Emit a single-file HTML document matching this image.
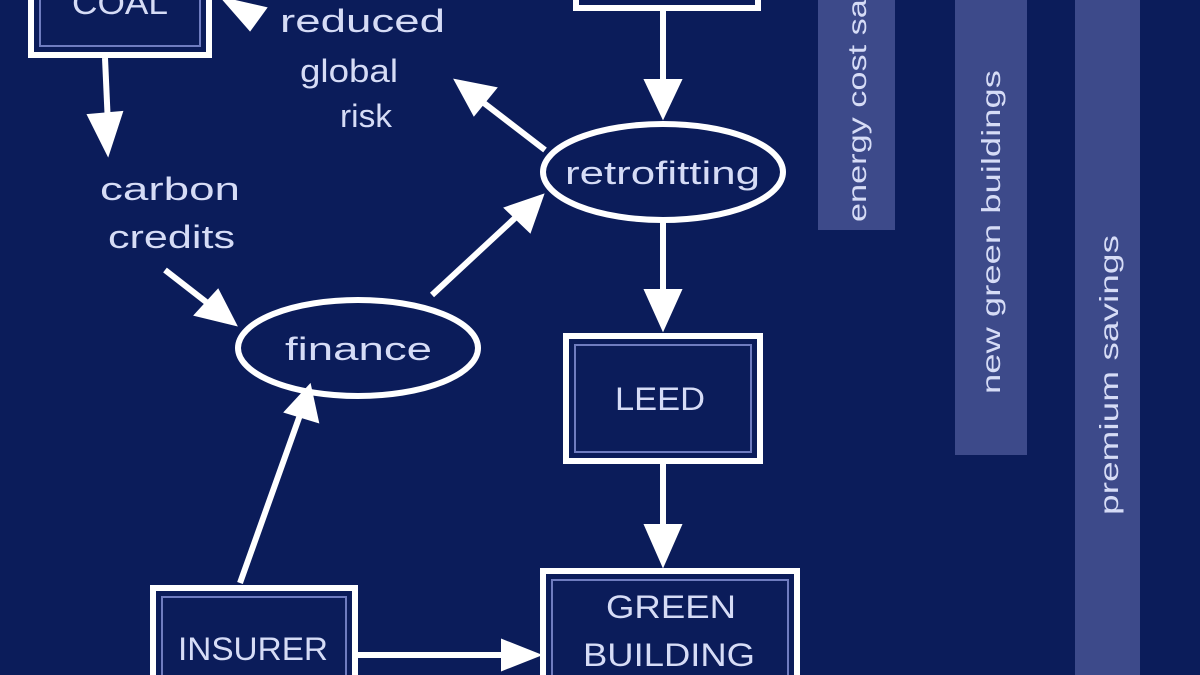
<!DOCTYPE html>
<html><head><style>
html,body{margin:0;padding:0;background:#0b1c5a;}
svg{display:block}
text{font-family:"Liberation Sans",sans-serif;fill:#d6dcf6;}
</style></head><body>
<svg width="1200" height="675" viewBox="0 0 1200 675">
<rect width="1200" height="675" fill="#0b1c5a"/>
<rect x="818" y="-5" width="77" height="235" fill="#3d4a8a"/>
<rect x="955" y="-5" width="72" height="460" fill="#3d4a8a"/>
<rect x="1075" y="-5" width="65" height="690" fill="#3d4a8a"/>
<text transform="translate(866,222) rotate(-90)" font-size="26" textLength="240" lengthAdjust="spacingAndGlyphs">energy cost sav</text>
<text transform="translate(1000,394) rotate(-90)" font-size="26" textLength="324" lengthAdjust="spacingAndGlyphs">new green buildings</text>
<text transform="translate(1118,515) rotate(-90)" font-size="26" textLength="280" lengthAdjust="spacingAndGlyphs">premium  savings</text>

<g fill="none" stroke="#fff" stroke-width="6">
<rect x="31" y="-20" width="178" height="75"/>
<rect x="576" y="-20" width="182" height="28"/>
<rect x="566" y="336" width="194" height="125"/>
<rect x="543" y="571" width="254" height="120"/>
<rect x="153" y="588" width="202" height="100"/>
<ellipse cx="663" cy="172" rx="120" ry="48"/>
<ellipse cx="358" cy="348" rx="120" ry="48"/>
</g>
<g fill="none" stroke="#6f7cc0" stroke-width="2">
<rect x="40" y="-20" width="160" height="66"/>
<rect x="575" y="345" width="176" height="107"/>
<rect x="552" y="580" width="236" height="102"/>
<rect x="162" y="597" width="184" height="82"/>
</g>
<g stroke="#fff" stroke-width="6" fill="#fff">
<line x1="663" y1="10" x2="663" y2="90"/>
<polygon points="645,80 681,80 663,118" stroke-width="2"/>
<line x1="663" y1="222" x2="663" y2="300"/>
<polygon points="645,290 681,290 663,330" stroke-width="2"/>
<line x1="663" y1="463" x2="663" y2="535"/>
<polygon points="645,525 681,525 663,566" stroke-width="2"/>
<line x1="105" y1="58" x2="108" y2="125"/>
<polygon points="88,115 122,112 108,155" stroke-width="2"/>
<line x1="545" y1="150" x2="480" y2="100"/>
<polygon points="455,80 496,88 474,115" stroke-width="2"/>
<polygon points="222,-2 266,8 250,30" stroke-width="2"/>
<line x1="165" y1="270" x2="210" y2="305"/>
<polygon points="236,325 195,315 218,290" stroke-width="2"/>
<line x1="432" y1="295" x2="515" y2="218"/>
<polygon points="543,195 530,232 505,208" stroke-width="2"/>
<line x1="240" y1="583" x2="300" y2="415"/>
<polygon points="310,385 318,422 285,412" stroke-width="2"/>
<line x1="357" y1="655" x2="505" y2="655"/>
<polygon points="540,655 502,640 502,670" stroke-width="2"/>
</g>
<g font-size="32">
<text x="72" y="14" textLength="96" lengthAdjust="spacingAndGlyphs">COAL</text>
<text x="280" y="32" textLength="165" lengthAdjust="spacingAndGlyphs">reduced</text>
<text x="300" y="82" textLength="98" lengthAdjust="spacingAndGlyphs">global</text>
<text x="340" y="127" textLength="52" lengthAdjust="spacingAndGlyphs">risk</text>
<text x="100" y="200" textLength="140" lengthAdjust="spacingAndGlyphs">carbon</text>
<text x="108" y="248" textLength="127" lengthAdjust="spacingAndGlyphs">credits</text>
<text x="565" y="184" textLength="195" lengthAdjust="spacingAndGlyphs">retrofitting</text>
<text x="285" y="360" textLength="147" lengthAdjust="spacingAndGlyphs">finance</text>
<text x="615" y="410" textLength="90" lengthAdjust="spacingAndGlyphs">LEED</text>
<text x="606" y="618" textLength="130" lengthAdjust="spacingAndGlyphs">GREEN</text>
<text x="583" y="666" textLength="172" lengthAdjust="spacingAndGlyphs">BUILDING</text>
<text x="178" y="660" textLength="150" lengthAdjust="spacingAndGlyphs">INSURER</text>
</g>
</svg>
</body></html>
